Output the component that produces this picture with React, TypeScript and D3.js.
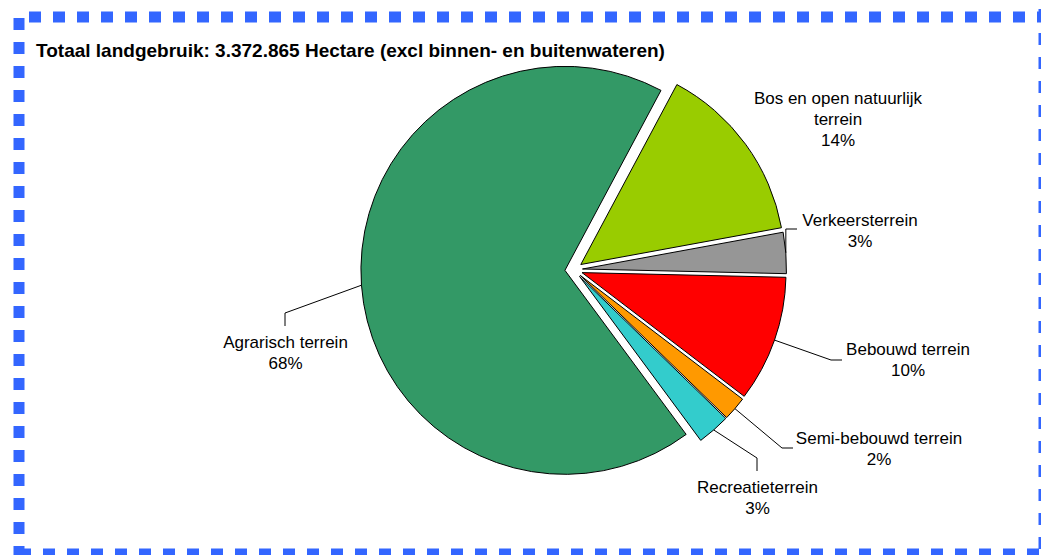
import React from "react";
import * as d3 from "d3";

// ---- data ----
const categories = [
  "Bos en open natuurlijk terrein",
  "Verkeersterrein",
  "Bebouwd terrein",
  "Semi-bebouwd terrein",
  "Recreatieterrein",
  "Agrarisch terrein",
];
const labelLines = [
  ["Bos en open natuurlijk", "terrein"],
  ["Verkeersterrein"],
  ["Bebouwd terrein"],
  ["Semi-bebouwd terrein"],
  ["Recreatieterrein"],
  ["Agrarisch terrein"],
];
const shares = [14.3, 3.25, 10.0, 1.9, 2.6, 67.9];
const percentLabels = ["14%", "3%", "10%", "2%", "3%", "68%"];
const colors = ["#99CC00", "#969696", "#FF0000", "#FF9900", "#33CCCC", "#339966"];
const title = "Totaal landgebruik: 3.372.865 Hectare (excl binnen- en buitenwateren)";

// ---- layout (not data) ----
const W = 1041;
const H = 555;
const cx = 573.7;
const cy = 269.7;
const R = 204;
const explode = 8.8;
const startDeg = 28.1;
// label layout: text center x, first baseline y, leader elbow & end (null = none)
const labelLayout = [
  { x: 838, y: 104, leader: null },
  { x: 860, y: 226, leader: { ex: null, ey: 229, tx: 797, ty: 229 } },
  { x: 908, y: 355, leader: { ex: 831, ey: 360, tx: 842, ty: 360 } },
  { x: 879, y: 444, leader: { ex: 782, ey: 448, tx: 793, ty: 448 } },
  { x: 757.5, y: 493, leader: { ex: 757, ey: 458, tx: 757, ty: 471 } },
  { x: 285.5, y: 348, leader: { ex: 285, ey: 313, tx: 285, ty: 326 } },
];
const lineH = 21;

export default function App() {
  const pie = d3
    .pie<number>()
    .sort(null)
    .value((d) => d)
    .startAngle((startDeg * Math.PI) / 180)
    .endAngle((startDeg * Math.PI) / 180 + 2 * Math.PI);
  const arcs = pie(shares);
  const arcGen = d3.arc<d3.PieArcDatum<number>>().innerRadius(0).outerRadius(R);

  return (
    <svg
      width={W}
      height={H}
      style={{ position: "absolute", left: 0, top: 0, background: "#fff" }}
      fontFamily="'Liberation Sans', Arial, sans-serif"
    >
      <rect x={0} y={0} width={W} height={H} fill="#fff" />
      {/* dashed border */}
      <g stroke="#3366FF" strokeWidth={11} strokeDasharray="12 12" fill="none">
        <line x1={29} y1={17} x2={1050} y2={17} />
        <line x1={19} y1={18} x2={19} y2={560} />
        <line x1={19} y1={554} x2={1050} y2={554} />
        <line x1={1044} y1={9} x2={1044} y2={560} />
      </g>
      <text x={36} y={57} fontSize={19} fontWeight="bold" fill="#000">
        {title}
      </text>
      {arcs.map((a, i) => {
        const mid = (a.startAngle + a.endAngle) / 2;
        const dx = explode * Math.sin(mid);
        const dy = -explode * Math.cos(mid);
        return (
          <path
            key={categories[i]}
            d={arcGen(a) || ""}
            transform={`translate(${cx + dx},${cy + dy})`}
            fill={colors[i]}
            stroke="#000"
            strokeWidth={1}
            strokeLinejoin="round"
          />
        );
      })}
      {arcs.map((a, i) => {
        const L = labelLayout[i];
        if (!L.leader) return null;
        const mid = (a.startAngle + a.endAngle) / 2;
        const ox = cx + (explode + R) * Math.sin(mid);
        const oy = cy - (explode + R) * Math.cos(mid);
        const ex = L.leader.ex == null ? ox : L.leader.ex;
        return (
          <polyline
            key={"l" + i}
            points={`${ox},${oy} ${ex},${L.leader.ey} ${L.leader.tx},${L.leader.ty}`}
            fill="none"
            stroke="#000"
            strokeWidth={1}
          />
        );
      })}
      {labelLayout.map((L, i) => {
        const lines = [...labelLines[i], percentLabels[i]];
        return (
          <text key={"t" + i} x={L.x} y={L.y} fontSize={17} textAnchor="middle" fill="#000">
            {lines.map((s, j) => (
              <tspan key={j} x={L.x} y={L.y + j * lineH}>
                {s}
              </tspan>
            ))}
          </text>
        );
      })}
    </svg>
  );
}
